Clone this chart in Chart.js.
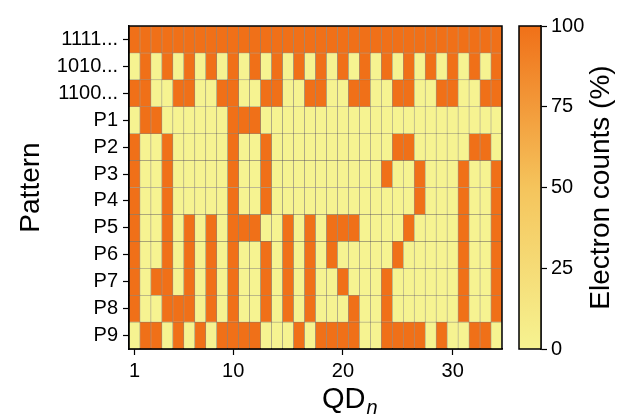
<!DOCTYPE html>
<html>
<head>
<meta charset="utf-8">
<script src="https://cdn.jsdelivr.net/npm/chart.js@4.4.1/dist/chart.umd.min.js"></script>
<style>
  body { margin: 0; background: #fff; }
  #wrap { position: relative; width: 629px; height: 417px; }
  #heat { position: absolute; left: 0; top: 0; }
  #cbar { position: absolute; left: 505px; top: 0; }
</style>
</head>
<body>
<div id="wrap">
  <canvas id="heat" width="505" height="417"></canvas>
  <canvas id="cbar" width="124" height="417"></canvas>
</div>
<script>
// data (electron counts in %, one array per pattern row, QD 1..34)
var patternLabels = ['1111...', '1010...', '1100...', 'P1', 'P2', 'P3', 'P4', 'P5', 'P6', 'P7', 'P8', 'P9'];
var xTicks = [1, 10, 20, 30];
var cbarTicks = [0, 25, 50, 75, 100];

var row1111 = [100,100,100,100,100,100,100,100,100,100,100,100,100,100,100,100,100,100,100,100,100,100,100,100,100,100,100,100,100,100,100,100,100,100];
var row1010 = [0,100,0,100,0,100,0,100,0,100,0,100,0,100,0,100,0,100,0,100,0,100,0,100,0,100,0,100,0,100,0,100,0,100];
var row1100 = [100,100,0,0,100,100,0,0,100,100,0,0,100,100,0,0,100,100,0,0,100,100,0,0,100,100,0,0,100,100,0,0,100,100];
var rowP1 = [0,100,100,0,0,0,0,0,0,100,100,100,0,0,0,0,0,0,0,0,0,0,0,0,0,0,0,0,0,0,0,0,0,0];
var rowP2 = [100,0,0,100,0,0,0,0,0,100,0,0,100,0,0,0,0,0,0,0,0,0,0,0,100,100,0,0,0,0,0,100,100,0];
var rowP3 = [100,0,0,100,0,0,0,0,0,100,0,0,100,0,0,0,0,0,0,0,0,0,0,100,0,0,100,0,0,0,100,0,0,100];
var rowP4 = [100,0,0,100,0,0,0,0,0,100,0,0,100,0,0,0,0,0,0,0,0,0,0,0,0,0,100,0,0,0,100,0,0,100];
var rowP5 = [100,0,0,100,0,100,0,100,0,100,100,100,0,0,100,0,100,0,100,100,100,0,0,0,0,100,0,0,0,0,100,0,0,100];
var rowP6 = [100,0,0,100,0,100,0,100,0,100,0,0,100,0,100,0,100,0,100,0,0,0,0,0,100,0,0,0,0,0,100,0,0,100];
var rowP7 = [100,0,100,100,0,100,0,100,0,100,0,0,100,0,100,0,100,0,0,100,0,0,0,100,0,0,0,0,0,0,100,0,0,100];
var rowP8 = [100,0,0,100,100,100,0,100,0,100,0,0,100,0,100,0,100,0,0,0,100,0,0,100,0,0,0,0,0,0,100,0,0,100];
var rowP9 = [0,100,100,0,100,0,100,0,100,100,100,100,0,0,0,100,0,100,100,100,100,0,0,100,100,100,100,0,100,0,0,100,100,0];

var rows = [row1111, row1010, row1100, rowP1, rowP2, rowP3, rowP4, rowP5, rowP6, rowP7, rowP8, rowP9];

Chart.defaults.font.family = "'Liberation Sans', Arial, sans-serif";
Chart.defaults.color = '#000';

// colormap: pale yellow -> light orange -> orange
var cmap = [[0, [246, 243, 145]], [0.5, [245, 196, 92]], [1, [240, 112, 24]]];

function colorFor(v) {
    var t = Math.max(0, Math.min(1, v / 100));
    for (var i = 1; i < cmap.length; i++) {
        if (t <= cmap[i][0]) {
            var a = cmap[i - 1], b = cmap[i];
            var f = (t - a[0]) / (b[0] - a[0]);
            var c = a[1].map(function(ch, k) { return Math.round(ch + (b[1][k] - ch) * f); });
            return 'rgb(' + c.join(',') + ')';
        }
    }
    return 'rgb(' + cmap[cmap.length - 1][1].join(',') + ')';
}

// black frame around the plot area (matplotlib style)
var framePlugin = {
    id: 'frame',
    afterDatasetsDraw: function(chart) {
        var a = chart.chartArea, ctx = chart.ctx;
        ctx.save();
        ctx.strokeStyle = '#000';
        ctx.lineWidth = 1.5;
        ctx.strokeRect(a.left, a.top, a.right - a.left, a.bottom - a.top);
        ctx.restore();
    }
};

// x label "QD" with italic subscript n
var xLabelPlugin = {
    id: 'xlabel',
    afterDraw: function(chart) {
        var ctx = chart.ctx;
        ctx.save();
        ctx.fillStyle = '#000';
        ctx.textBaseline = 'alphabetic';
        ctx.font = "29px 'Liberation Sans', Arial, sans-serif";
        var w1 = ctx.measureText('QD').width;
        var x0 = 322;
        ctx.fillText('QD', x0, 408);
        ctx.font = "italic 20px 'Liberation Sans', Arial, sans-serif";
        ctx.fillText('n', x0 + w1 + 1, 414);
        ctx.restore();
    }
};

var datasets = rows.map(function(vals, r) {
    return {
        label: patternLabels[r],
        data: vals.map(function(v, i) { return { x: i + 1, y: [r, r + 1] }; }),
        backgroundColor: vals.map(colorFor),
        borderColor: 'rgba(60,50,30,0.45)',
        borderWidth: 0.6,
        borderSkipped: false,
        grouped: false,
        barPercentage: 1,
        categoryPercentage: 1
    };
});

new Chart(document.getElementById('heat'), {
    type: 'bar',
    data: { datasets: datasets },
    options: {
        responsive: false,
        animation: false,
        layout: { padding: { top: 26, right: 3, left: 0, bottom: 0 } },
        plugins: { legend: { display: false }, tooltip: { enabled: false } },
        scales: {
            x: {
                type: 'linear',
                min: 0.5,
                max: 34.5,
                offset: false,
                afterBuildTicks: function(scale) {
                    scale.ticks = xTicks.map(function(v) { return { value: v }; });
                },
                afterFit: function(scale) { scale.height = 68; },
                ticks: { font: { size: 20 }, color: '#000', padding: 4, maxRotation: 0, autoSkip: false },
                grid: { offset: false, drawOnChartArea: false, drawTicks: true, tickLength: 6, tickColor: '#000', tickWidth: 1.2 },
                border: { display: true, color: '#000', width: 1.5 }
            },
            y: {
                type: 'linear',
                reverse: true,
                min: 0,
                max: 12,
                afterBuildTicks: function(scale) {
                    scale.ticks = patternLabels.map(function(l, i) { return { value: i + 0.5 }; });
                },
                afterFit: function(scale) { scale.width = 129; },
                ticks: {
                    font: { size: 20 },
                    color: '#000',
                    padding: 5,
                    autoSkip: false,
                    callback: function(value, index) { return patternLabels[index]; }
                },
                grid: { drawOnChartArea: false, drawTicks: true, tickLength: 6, tickColor: '#000', tickWidth: 1.2 },
                border: { display: true, color: '#000', width: 1.5 },
                title: { display: true, text: 'Pattern', font: { size: 28 }, color: '#000', padding: { top: 14, bottom: 0 } }
            }
        }
    },
    plugins: [framePlugin, xLabelPlugin]
});

// colorbar
var cbarTitlePlugin = {
    id: 'cbarTitle',
    afterDraw: function(chart) {
        var a = chart.chartArea, ctx = chart.ctx;
        ctx.save();
        ctx.fillStyle = '#000';
        ctx.font = "28px 'Liberation Sans', Arial, sans-serif";
        ctx.textAlign = 'center';
        ctx.textBaseline = 'middle';
        ctx.translate(96, (a.top + a.bottom) / 2);
        ctx.rotate(-Math.PI / 2);
        ctx.fillText('Electron counts (%)', 0, 0);
        ctx.restore();
    }
};

new Chart(document.getElementById('cbar'), {
    type: 'bar',
    data: {
        labels: [''],
        datasets: [{
            data: [[cbarTicks[0], cbarTicks[cbarTicks.length - 1]]],
            backgroundColor: function(context) {
                var a = context.chart.chartArea;
                if (!a) return colorFor(50);
                var g = context.chart.ctx.createLinearGradient(0, a.bottom, 0, a.top);
                cmap.forEach(function(s) { g.addColorStop(s[0], 'rgb(' + s[1].join(',') + ')'); });
                return g;
            },
            borderWidth: 0,
            barPercentage: 1,
            categoryPercentage: 1
        }]
    },
    options: {
        responsive: false,
        animation: false,
        layout: { padding: { top: 26, left: 14, right: 0, bottom: 68 } },
        plugins: { legend: { display: false }, tooltip: { enabled: false } },
        scales: {
            x: { display: false },
            y: {
                position: 'right',
                min: 0,
                max: 100,
                afterBuildTicks: function(scale) {
                    scale.ticks = cbarTicks.map(function(v) { return { value: v }; });
                },
                afterFit: function(scale) { scale.width = 88; },
                ticks: { font: { size: 20 }, color: '#000', padding: 4 },
                grid: { drawOnChartArea: false, drawTicks: true, tickLength: 6, tickColor: '#000', tickWidth: 1.2 },
                border: { display: true, color: '#000', width: 1.5 }
            }
        }
    },
    plugins: [framePlugin, cbarTitlePlugin]
});
</script>
</body>
</html>
